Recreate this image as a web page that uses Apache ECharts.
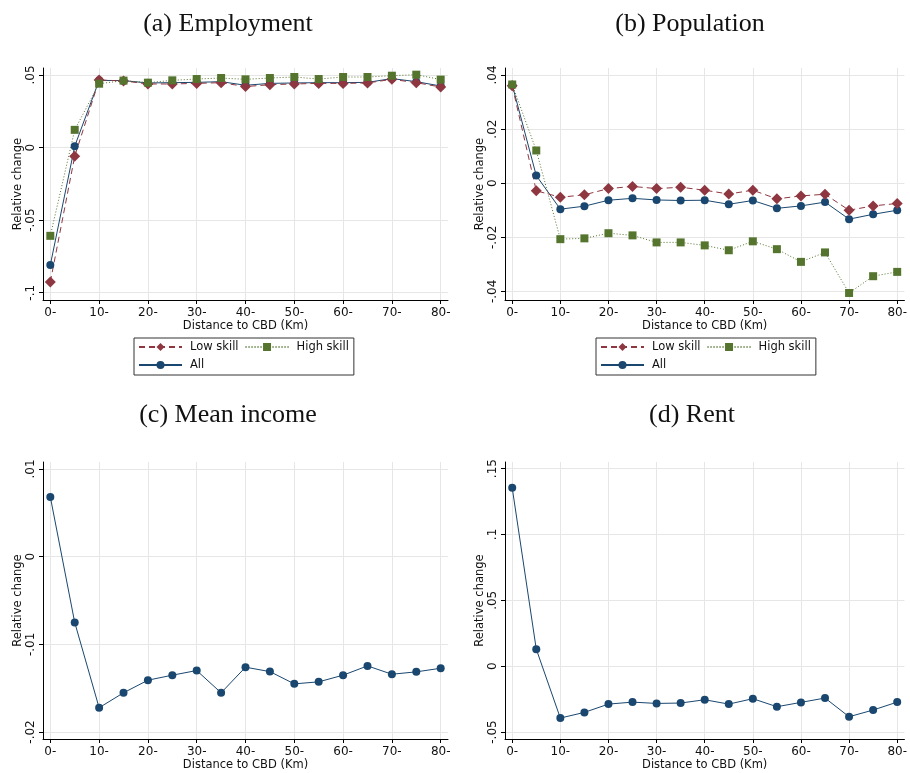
<!DOCTYPE html>
<html>
<head>
<meta charset="utf-8">
<script src="https://cdn.jsdelivr.net/npm/echarts@6/dist/echarts.min.js"></script>
<style>
  html, body { margin: 0; padding: 0; background: #fff; }
  #main { width: 910px; height: 773px; }
</style>
</head>
<body>
<div id="main"></div>
<script>
// distance bands (km)
var dist = [0, 5, 10, 15, 20, 25, 30, 35, 40, 45, 50, 55, 60, 65, 70, 75, 80];

// (a) Employment
var empLow  = [-0.0926, -0.0060, 0.0465, 0.0459, 0.0438, 0.0438, 0.0442, 0.0447, 0.0420, 0.0433, 0.0438, 0.0442, 0.0442, 0.0445, 0.0470, 0.0447, 0.0417];
var empHigh = [-0.0608, 0.0122, 0.0440, 0.0461, 0.0447, 0.0463, 0.0472, 0.0479, 0.0470, 0.0479, 0.0486, 0.0472, 0.0486, 0.0486, 0.0495, 0.0502, 0.0468];
var empAll  = [-0.0809, 0.0009, 0.0463, 0.0461, 0.0445, 0.0447, 0.0449, 0.0454, 0.0429, 0.0442, 0.0445, 0.0447, 0.0447, 0.0449, 0.0475, 0.0454, 0.0424];

// (b) Population
var popLow  = [0.0360, -0.0028, -0.0052, -0.0043, -0.0020, -0.0012, -0.0020, -0.0015, -0.0026, -0.0040, -0.0026, -0.0058, -0.0047, -0.0041, -0.0100, -0.0084, -0.0075];
var popHigh = [0.0365, 0.0121, -0.0207, -0.0204, -0.0185, -0.0193, -0.0219, -0.0219, -0.0230, -0.0248, -0.0215, -0.0244, -0.0291, -0.0256, -0.0406, -0.0344, -0.0328];
var popAll  = [0.0364, 0.0028, -0.0096, -0.0085, -0.0063, -0.0056, -0.0062, -0.0064, -0.0063, -0.0078, -0.0064, -0.0093, -0.0084, -0.0070, -0.0133, -0.0115, -0.0100];

// (c) Mean income
var income = [0.00682, -0.0075, -0.01723, -0.01553, -0.01409, -0.01352, -0.01299, -0.01553, -0.01261, -0.01311, -0.01451, -0.01428, -0.01352, -0.01246, -0.01341, -0.01314, -0.01273];

// (d) Rent
var rent = [0.1354, 0.0129, -0.0394, -0.0351, -0.0288, -0.0273, -0.0283, -0.0280, -0.0255, -0.0288, -0.0247, -0.0308, -0.0275, -0.0242, -0.0384, -0.0333, -0.0273];

// tick labels
var xTicks = [0, 10, 20, 30, 40, 50, 60, 70, 80];
var empTicks = [-0.1, -0.05, 0, 0.05];
var popTicks = [-0.04, -0.02, 0, 0.02, 0.04];
var incomeTicks = [-0.02, -0.01, 0, 0.01];
var rentTicks = [-0.05, 0, 0.05, 0.1, 0.15];

var titles = ['(a) Employment', '(b) Population', '(c) Mean income', '(d) Rent'];
var names = ['Low skill', 'High skill', 'All'];

var RED = '#8f3741', GREEN = '#55752f', BLUE = '#1a476f';
var AXIS_FONT = 'DejaVu Sans';

function pairs(ys) {
    return dist.map(function (d, i) { return [d, ys[i]]; });
}

function stataNum(v) {
    if (v === 0) return '0';
    return String(+v.toFixed(4)).replace('0.', '.');
}

var grids = [
    { left: 43, top: 68, width: 405, height: 232 },
    { left: 505, top: 68, width: 404, height: 232 },
    { left: 43, top: 462, width: 405, height: 277 },
    { left: 505, top: 462, width: 404, height: 277 }
];

function xAxis(i) {
    return {
        type: 'value', gridIndex: i, min: -1.5, max: 81.5,
        name: 'Distance to CBD (Km)', nameLocation: 'middle', nameGap: 19,
        nameTextStyle: { fontFamily: AXIS_FONT, fontSize: 11.5, color: '#111' },
        axisLine: { show: true, onZero: false, lineStyle: { color: '#000', width: 1 } },
        axisTick: { show: true, length: 4, lineStyle: { color: '#000' }, customValues: xTicks },
        axisLabel: { customValues: xTicks, margin: 7, fontFamily: AXIS_FONT, fontSize: 12, color: '#111',
            formatter: function (v) { return v + '-'; } },
        splitLine: { show: true, lineStyle: { color: '#e6e6e6', width: 1 } }
    };
}

function yAxis(i, lo, hi, ticks) {
    return {
        type: 'value', gridIndex: i, min: lo, max: hi,
        name: 'Relative change', nameLocation: 'middle', nameGap: 19,
        nameTextStyle: { fontFamily: AXIS_FONT, fontSize: 11.5, color: '#111' },
        axisLine: { show: true, onZero: false, lineStyle: { color: '#000', width: 1 } },
        axisTick: { show: true, length: 4, lineStyle: { color: '#000' }, customValues: ticks },
        axisLabel: { customValues: ticks, rotate: 90, margin: 6, fontFamily: AXIS_FONT, fontSize: 12, color: '#111',
            formatter: stataNum },
        splitLine: { show: true, lineStyle: { color: '#e6e6e6', width: 1 } }
    };
}

function lineSeries(name, idx, ys, color, symbol, size, lineType) {
    return {
        type: 'line', name: name, xAxisIndex: idx, yAxisIndex: idx,
        data: pairs(ys), symbol: symbol, symbolSize: size,
        showAllSymbol: true, animation: false,
        itemStyle: { color: color },
        lineStyle: { color: color, width: 1, type: lineType }
    };
}

function legend(left) {
    return {
        data: names, left: left, top: 338, width: 226,
        orient: 'horizontal', itemWidth: 43, itemHeight: 10, itemGap: 6,
        padding: [3, 5, 4, 4],
        borderColor: '#333', borderWidth: 1, backgroundColor: '#fff',
        selectedMode: false,
        textStyle: { fontFamily: AXIS_FONT, fontSize: 11.5, color: '#111', padding: [0, 3, 0, 3] }
    };
}

var titleGraphics = [[228, 24], [690, 24], [228, 415], [692, 415]].map(function (p, i) {
    return {
        type: 'text', x: p[0], y: p[1],
        style: { text: titles[i], font: '26px "Liberation Serif"', fill: '#111', align: 'center', verticalAlign: 'middle' }
    };
});

var chart = echarts.init(document.getElementById('main'), null, { renderer: 'canvas' });

var option = {
    backgroundColor: '#ffffff',
    animation: false,
    graphic: titleGraphics,
    grid: grids,
    legend: [legend(134), legend(596)],
    xAxis: [xAxis(0), xAxis(1), xAxis(2), xAxis(3)],
    yAxis: [
        yAxis(0, -0.105, 0.0548, empTicks),
        yAxis(1, -0.0432, 0.0426, popTicks),
        yAxis(2, -0.0208, 0.0108, incomeTicks),
        yAxis(3, -0.0553, 0.155, rentTicks)
    ],
    series: [
        lineSeries('All', 0, empAll, BLUE, 'circle', 8, 'solid'),
        lineSeries('Low skill', 0, empLow, RED, 'diamond', 11, [6, 4]),
        lineSeries('High skill', 0, empHigh, GREEN, 'rect', 8, [1, 2]),
        lineSeries('All', 1, popAll, BLUE, 'circle', 8, 'solid'),
        lineSeries('Low skill', 1, popLow, RED, 'diamond', 11, [6, 4]),
        lineSeries('High skill', 1, popHigh, GREEN, 'rect', 8, [1, 2]),
        lineSeries('Mean income', 2, income, BLUE, 'circle', 8, 'solid'),
        lineSeries('Rent', 3, rent, BLUE, 'circle', 8, 'solid')
    ]
};

chart.setOption(option);
</script>
</body>
</html>
